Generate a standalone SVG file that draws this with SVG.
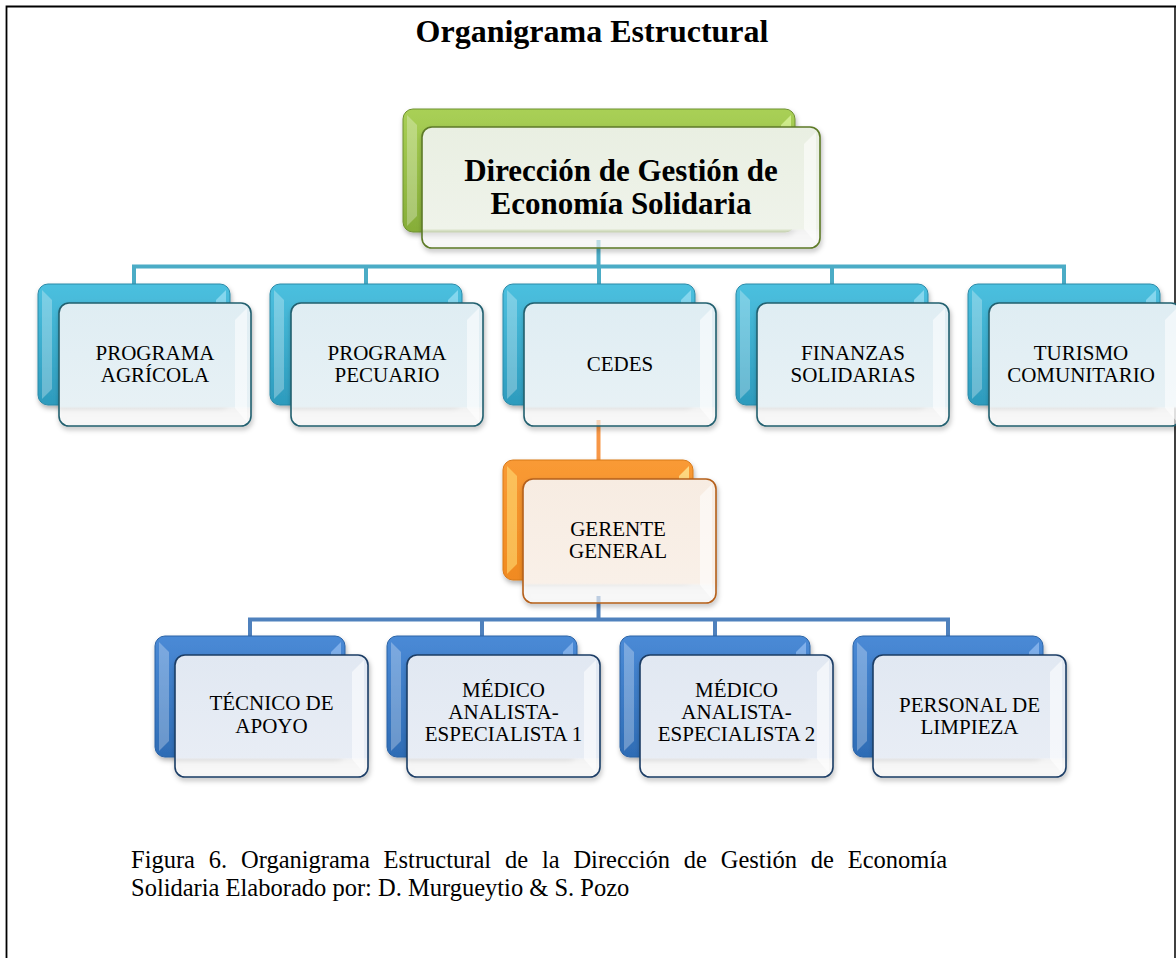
<svg xmlns="http://www.w3.org/2000/svg" xmlns:xlink="http://www.w3.org/1999/xlink" width="1176" height="958" viewBox="0 0 1176 958">
<style>
.t{font-family:"Liberation Serif","Times New Roman",serif;font-size:21px;text-anchor:middle;fill:#000}
.title{font-family:"Liberation Serif","Times New Roman",serif;font-size:32px;font-weight:bold;text-anchor:middle;fill:#000}
.big{font-family:"Liberation Serif","Times New Roman",serif;font-size:31px;font-weight:bold;text-anchor:middle;fill:#000}
.cap{font-family:"Liberation Serif","Times New Roman",serif;font-size:24.5px;fill:#000}
.c-teal{fill:none;stroke:#4bacc6;stroke-width:4}
.c-orange{fill:none;stroke:#f79646;stroke-width:4}
.c-blue{fill:none;stroke:#4f81bd;stroke-width:4}
.hl{fill:#fff;opacity:.28}
.rb{fill:#fff;opacity:.55}
.frame{fill:none;stroke:#000;stroke-width:1.8}
</style>
<defs>
<filter id="sh" x="-10%" y="-10%" width="125%" height="130%">
<feDropShadow dx="1" dy="3" stdDeviation="2.5" flood-color="#000" flood-opacity=".3"/>
</filter>
<linearGradient id="gTealB" x1="0" y1="0" x2="0" y2="1"><stop offset="0" stop-color="#4cc0df"/><stop offset="1" stop-color="#2d9bbd"/></linearGradient>
<linearGradient id="gTealF" x1="0" y1="0" x2="0" y2="1"><stop offset="0" stop-color="#dfedf3"/><stop offset=".84" stop-color="#e7f1f5"/><stop offset=".86" stop-color="#fff" stop-opacity=".6"/><stop offset="1" stop-color="#fff" stop-opacity=".6"/></linearGradient>
<linearGradient id="gBlueB" x1="0" y1="0" x2="0" y2="1"><stop offset="0" stop-color="#4a8ad6"/><stop offset="1" stop-color="#2e6cb5"/></linearGradient>
<linearGradient id="gBlueF" x1="0" y1="0" x2="0" y2="1"><stop offset="0" stop-color="#e1e8f2"/><stop offset=".84" stop-color="#e8edf5"/><stop offset=".86" stop-color="#fff" stop-opacity=".6"/><stop offset="1" stop-color="#fff" stop-opacity=".6"/></linearGradient>
<linearGradient id="gOrB" x1="0" y1="0" x2="0" y2="1"><stop offset="0" stop-color="#f99a35"/><stop offset="1" stop-color="#f08a20"/></linearGradient>
<linearGradient id="gOrF" x1="0" y1="0" x2="0" y2="1"><stop offset="0" stop-color="#f7ece2"/><stop offset=".84" stop-color="#f9f0e8"/><stop offset=".86" stop-color="#fff" stop-opacity=".6"/><stop offset="1" stop-color="#fff" stop-opacity=".6"/></linearGradient>
<linearGradient id="gGrB" x1="0" y1="0" x2="0" y2="1"><stop offset="0" stop-color="#a9d056"/><stop offset="1" stop-color="#86ad38"/></linearGradient>
<linearGradient id="gGrF" x1="0" y1="0" x2="0" y2="1"><stop offset="0" stop-color="#e9efe2"/><stop offset=".84" stop-color="#eff3ea"/><stop offset=".86" stop-color="#fff" stop-opacity=".6"/><stop offset="1" stop-color="#fff" stop-opacity=".6"/></linearGradient>

<g id="boxTeal">
<rect x="0" y="0" width="192" height="121" rx="10" fill="url(#gTealB)" stroke="#2b8aa8" stroke-width="1" filter="url(#sh)"/>
<polygon class="hl" points="4,6 14,16 14,105 4,115"/>
<polygon fill="#bff0ff" opacity=".5" points="188,6 178,16 178,30 188,24"/>
<rect x="21" y="19" width="192" height="123" rx="10" fill="url(#gTealF)" stroke="#22606f" stroke-width="1.6" filter="url(#sh)"/>
<polygon class="rb" points="209,24 209,138 197,124 197,36"/>
</g>
<g id="boxBlue">
<rect x="0" y="0" width="190" height="121" rx="10" fill="url(#gBlueB)" stroke="#2a63a6" stroke-width="1" filter="url(#sh)"/>
<polygon class="hl" points="4,6 14,16 14,105 4,115"/>
<polygon fill="#b6d6ff" opacity=".5" points="186,6 176,16 176,30 186,24"/>
<rect x="20" y="19" width="193" height="122" rx="10" fill="url(#gBlueF)" stroke="#1d3e66" stroke-width="1.6" filter="url(#sh)"/>
<polygon class="rb" points="209,24 209,137 197,123 197,36"/>
</g>
</defs>

<rect x="0" y="0" width="1176" height="958" fill="#fff"/>
<path class="frame" d="M6.5 958 V6.5 H1176"/>
<path d="M1175 6.5 V958" fill="none" stroke="#000" stroke-width="1.5"/>

<text class="title" x="592" y="42">Organigrama Estructural</text>

<g id="connectors">
<path class="c-teal" d="M598.5 240 V266.5 M134 290 V266.5 H1064 V290 M366 266.5 V290 M599 266.5 V290 M832 266.5 V290"/>
<path class="c-orange" d="M598.5 420 V466"/>
<path class="c-blue" d="M598.5 596 V619.5 M250 642 V619.5 H948 V642 M482 619.5 V642 M715 619.5 V642"/>
</g>

<g id="n-direccion">
<rect x="403" y="109" width="392" height="123" rx="10" fill="url(#gGrB)" stroke="#6f9130" stroke-width="1" filter="url(#sh)"/>
<polygon class="hl" points="407,115 417,125 417,216 407,226"/>
<polygon fill="#eaffb0" opacity=".6" points="791,115 781,125 781,140 791,134"/>
<rect x="422" y="127" width="398" height="121" rx="10" fill="url(#gGrF)" stroke="#5d7a28" stroke-width="1.6" filter="url(#sh)"/>
<polygon class="rb" points="816,132 816,243 804,229 804,144"/>
<text class="big" x="621" y="181">Dirección de Gestión de</text>
<text class="big" x="621" y="214">Economía Solidaria</text>
</g>

<g id="n-agricola"><use xlink:href="#boxTeal" x="38" y="284"/><text class="t" x="155" y="360">PROGRAMA</text><text class="t" x="155" y="382">AGRÍCOLA</text></g>
<g id="n-pecuario"><use xlink:href="#boxTeal" x="270" y="284"/><text class="t" x="387" y="360">PROGRAMA</text><text class="t" x="387" y="382">PECUARIO</text></g>
<g id="n-cedes"><use xlink:href="#boxTeal" x="503" y="284"/><text class="t" x="620" y="371">CEDES</text></g>
<g id="n-finanzas"><use xlink:href="#boxTeal" x="736" y="284"/><text class="t" x="853" y="360">FINANZAS</text><text class="t" x="853" y="382">SOLIDARIAS</text></g>
<g id="n-turismo"><use xlink:href="#boxTeal" x="968" y="284"/><text class="t" x="1081" y="360">TURISMO</text><text class="t" x="1081" y="382">COMUNITARIO</text></g>

<g id="n-gerente">
<rect x="503" y="460" width="190" height="120" rx="10" fill="url(#gOrB)" stroke="#d97a1a" stroke-width="1" filter="url(#sh)"/>
<polygon fill="#ffe27a" opacity=".55" points="507,466 517,476 517,564 507,574"/>
<polygon fill="#fff2a0" opacity=".7" points="689,466 679,476 679,492 689,486"/>
<rect x="523" y="479" width="193" height="124" rx="10" fill="url(#gOrF)" stroke="#b5601a" stroke-width="1.6" filter="url(#sh)"/>
<polygon class="rb" points="712,484 712,599 700,585 700,496"/>
<text class="t" x="618" y="536">GERENTE</text>
<text class="t" x="618" y="558">GENERAL</text>
</g>

<g id="n-tecnico"><use xlink:href="#boxBlue" x="155" y="636"/><text class="t" x="271.5" y="710">TÉCNICO DE</text><text class="t" x="271.5" y="733">APOYO</text></g>
<g id="n-medico1"><use xlink:href="#boxBlue" x="387" y="636"/><text class="t" x="503.5" y="697">MÉDICO</text><text class="t" x="503.5" y="719">ANALISTA-</text><text class="t" x="503.5" y="741">ESPECIALISTA 1</text></g>
<g id="n-medico2"><use xlink:href="#boxBlue" x="620" y="636"/><text class="t" x="736.5" y="697">MÉDICO</text><text class="t" x="736.5" y="719">ANALISTA-</text><text class="t" x="736.5" y="741">ESPECIALISTA 2</text></g>
<g id="n-limpieza"><use xlink:href="#boxBlue" x="853" y="636"/><text class="t" x="969.5" y="712">PERSONAL DE</text><text class="t" x="969.5" y="734">LIMPIEZA</text></g>

<text class="cap" x="131" y="868" word-spacing="7.7">Figura 6. Organigrama Estructural de la Dirección de Gestión de Economía</text>
<text class="cap" x="131" y="896">Solidaria Elaborado por: D. Murgueytio &amp; S. Pozo</text>
</svg>
